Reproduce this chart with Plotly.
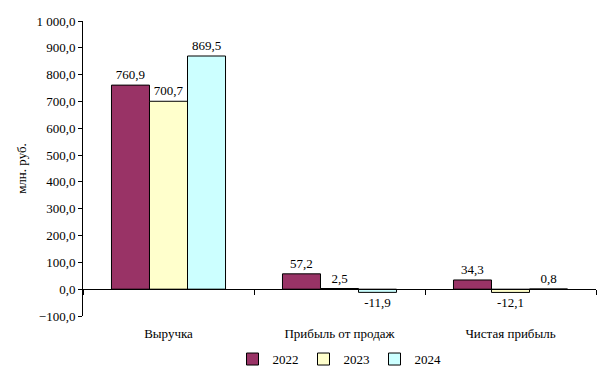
import plotly.graph_objects as go

categories = ["Выручка", "Прибыль от продаж", "Чистая прибыль"]
years = ["2022", "2023", "2024"]
v2022 = [760.9, 57.2, 34.3]
v2023 = [700.7, 2.5, -12.1]
v2024 = [869.5, -11.9, 0.8]
colors = ["#993366", "#FFFFCC", "#CCFFFF"]

FONT = "Liberation Serif"
FS = 13

fig = go.Figure()
for name, vals, col in zip(years, [v2022, v2023, v2024], colors):
    fig.add_trace(go.Bar(
        x=categories, y=vals, name=name,
        marker=dict(color=col, line=dict(color="black", width=1)),
        texttemplate="%{y:.1f}", textposition="outside",
        textfont=dict(family=FONT, size=FS, color="black"),
        cliponaxis=False,
    ))

ymin, ymax = -100, 1000
fig.update_layout(
    width=607, height=377,
    margin=dict(l=83, r=11, t=21, b=61, autoexpand=False),
    paper_bgcolor="white", plot_bgcolor="white",
    separators=", ",
    barmode="group", bargap=0.333, bargroupgap=0,
    font=dict(family=FONT, size=FS, color="black"),
    showlegend=True,
    legend=dict(orientation="h", x=0.5, xanchor="center", y=-0.146, yanchor="middle",
                font=dict(family=FONT, size=FS), itemwidth=30,
                tracegroupgap=0),
    xaxis=dict(
        anchor="free", position=(0 - ymin) / (ymax - ymin),
        showline=True, linecolor="black", linewidth=1,
        ticks="outside", tickson="boundaries", ticklen=5, tickcolor="black",
        ticklabelstandoff=32, showgrid=False, zeroline=False, automargin=False,
    ),
    yaxis=dict(
        range=[ymin, ymax], dtick=100, tickformat=",.1f",
        showline=True, linecolor="black", linewidth=1,
        ticks="outside", ticklen=4, tickcolor="black",
        showgrid=False, zeroline=False, automargin=False,
        title=dict(text="млн. руб.", font=dict(family=FONT, size=FS), standoff=6),
    ),
)
fig.write_html("out.html", config={"displayModeBar": False},
               post_script="document.body.style.margin='0';")
